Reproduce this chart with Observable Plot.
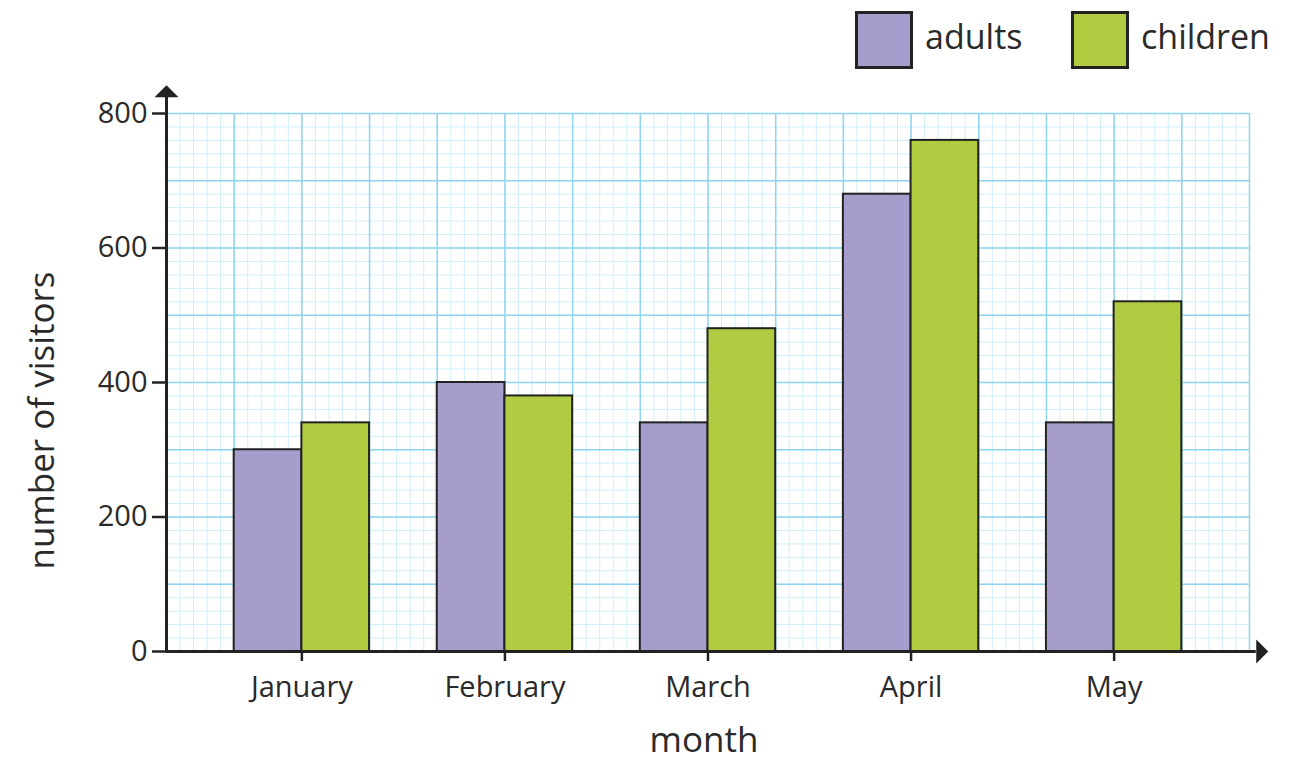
<!DOCTYPE html>
<html>
<head>
<meta charset="utf-8">
<script src="https://cdn.jsdelivr.net/npm/d3@7"></script>
<script src="https://cdn.jsdelivr.net/npm/@observablehq/plot@0.6"></script>
<style>
  html, body { margin: 0; padding: 0; background: #fff; }
  #wrap { position: relative; width: 1303px; height: 764px; font-family: "Open Sans", "Noto Sans", sans-serif; color: #2a2a2a; }
  #legend { position: absolute; left: 0; top: 0; width: 1303px; height: 80px; }
  .sw { position: absolute; top: 11px; width: 58px; height: 58px; box-sizing: border-box; border: 3px solid #222; }
  .lt { position: absolute; top: 11px; font-size: 34px; line-height: 50px; }
  #chart { position: absolute; left: 0; top: 0; }
</style>
</head>
<body>
<div id="wrap">
  <div id="chart"></div>
  <div id="legend"></div>
</div>
<script>
const months = ["January", "February", "March", "April", "May"];
const adults = [300, 400, 340, 680, 340];
const children = [340, 380, 480, 760, 520];
const seriesNames = ["adults", "children"];
const seriesColors = ["#a69dcc", "#b0cc40"];
const yTicks = [0, 200, 400, 600, 800];

const ink = "#222";
const textColor = "#2a2a2a";

// month centres on a grid of cells (each bar = one major cell)
const centre = i => 2 + 3 * i;
const rows = months.flatMap((m, i) => [
  {month: m, i, series: "adults", value: adults[i]},
  {month: m, i, series: "children", value: children[i]}
]);

const arrowHead = {
  draw(ctx, size) {
    ctx.moveTo(0, -12);
    ctx.lineTo(12, 0);
    ctx.lineTo(-12, 0);
    ctx.closePath();
  }
};

const chart = Plot.plot({
  width: 1303,
  height: 764,
  marginLeft: 166,
  marginRight: 54,
  marginTop: 113,
  marginBottom: 113,
  style: {fontFamily: "'Open Sans', 'Noto Sans', sans-serif", color: textColor, background: "white"},
  x: {domain: [0, 16], axis: null},
  y: {domain: [0, 800], axis: null},
  color: {domain: seriesNames, range: seriesColors},
  marks: [
    // minor grid
    Plot.ruleX(d3.range(0, 16.001, 0.2), {y1: 0, y2: 800, stroke: "#cfeefa", strokeWidth: 1}),
    Plot.ruleY(d3.range(0, 800.001, 20), {x1: 0, x2: 16, stroke: "#cfeefa", strokeWidth: 1}),
    // major grid
    Plot.ruleX(d3.range(0, 17, 1), {y1: 0, y2: 800, stroke: "#8fd4f0", strokeWidth: 1.5}),
    Plot.ruleY(d3.range(0, 801, 100), {x1: 0, x2: 16, stroke: "#8fd4f0", strokeWidth: 1.5}),
    // bars
    Plot.rectY(rows, {
      x1: d => centre(d.i) + (d.series === "adults" ? -1 : 0),
      x2: d => centre(d.i) + (d.series === "adults" ? 0 : 1),
      y: "value",
      fill: "series",
      stroke: ink,
      strokeWidth: 2
    }),
    // axes lines
    Plot.ruleX([0], {y1: 0, y2: 824, stroke: ink, strokeWidth: 3}),
    Plot.ruleY([0], {x1: 0, x2: 16.1, stroke: ink, strokeWidth: 3}),
    Plot.dot([0], {x: 0, y: 824, symbol: arrowHead, fill: ink, stroke: "none"}),
    Plot.dot([0], {x: 16.1, y: 0, symbol: arrowHead, rotate: 90, fill: ink, stroke: "none"}),
    // y axis ticks
    Plot.axisY(yTicks, {x: 0, anchor: "left", tickSize: 14, tickPadding: 5, fontSize: 29, stroke: ink, strokeWidth: 2.5, color: textColor, label: null}),
    // x axis ticks
    Plot.axisX(months.map((m, i) => centre(i)), {
      anchor: "bottom",
      tickSize: 10,
      tickPadding: 15,
      fontSize: 29,
      stroke: ink,
      strokeWidth: 2.5,
      tickFormat: d => months[(d - 2) / 3],
      label: null
    }),
    // axis titles
    Plot.text(["number of visitors"], {frameAnchor: "left", textAnchor: "middle", dx: -124, dy: 38, rotate: -90, fontSize: 35, fill: textColor}),
    Plot.text(["month"], {frameAnchor: "bottom", dy: 100, dx: -4, fontSize: 35, fill: textColor})
  ]
});
document.getElementById("chart").appendChild(chart);

// legend
const legend = document.getElementById("legend");
const legendPos = [855, 1071];
seriesNames.forEach((name, k) => {
  const sw = document.createElement("div");
  sw.className = "sw";
  sw.style.left = legendPos[k] + "px";
  sw.style.background = seriesColors[k];
  legend.appendChild(sw);
  const t = document.createElement("div");
  t.className = "lt";
  t.style.left = (legendPos[k] + 70) + "px";
  t.textContent = name;
  legend.appendChild(t);
});
</script>
</body>
</html>
